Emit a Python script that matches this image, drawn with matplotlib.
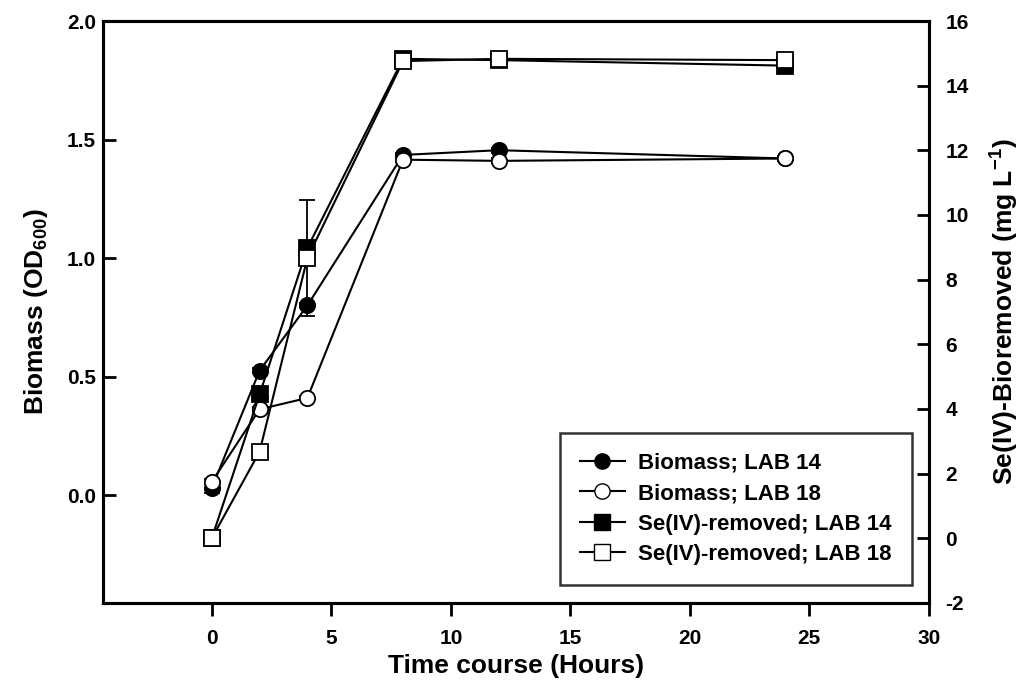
import matplotlib
matplotlib.use("Agg")
import matplotlib.pyplot as plt
from matplotlib.lines import Line2D

plt.rcParams["font.family"] = ["Liberation Sans", "DejaVu Sans"]
plt.rcParams["font.weight"] = "bold"
plt.rcParams["mathtext.fontset"] = "custom"
plt.rcParams["mathtext.rm"] = "Liberation Sans:bold"
plt.rcParams["mathtext.it"] = "Liberation Sans:bold"
plt.rcParams["mathtext.bf"] = "Liberation Sans:bold"

# time points (hours)
hours = [0, 2, 4, 8, 12, 24]

# biomass, OD600 (left axis)
biomass_lab14 = [0.03, 0.525, 0.80, 1.435, 1.455, 1.42]
biomass_lab14_err = [0.02, 0.01, 0.01, 0.01, 0.01, 0.01]
biomass_lab18 = [0.056, 0.362, 0.41, 1.415, 1.41, 1.42]
biomass_lab18_err = [0.01, 0.01, 0.01, 0.01, 0.01, 0.01]

# Se(IV) removed, mg/L (right axis)
se_lab14 = [0.0, 4.45, 8.98, 14.83, 14.79, 14.62]
se_lab14_err = [0.1, 0.1, 0.1, 0.1, 0.1, 0.1]
se_lab18 = [0.0, 2.68, 8.67, 14.76, 14.83, 14.79]
se_lab18_err = [0.1, 0.1, 1.8, 0.1, 0.1, 0.1]

fig = plt.figure(figsize=(10.23, 6.91), dpi=100)
ax = fig.add_axes([0.1007, 0.1274, 0.8073, 0.8422])
ax2 = ax.twinx()

common = dict(color="black", linewidth=1.5, markersize=11, markeredgewidth=1.3,
              elinewidth=1.3, capsize=6, capthick=1.3)

ax.errorbar(hours, biomass_lab14, yerr=biomass_lab14_err, marker="o",
            markerfacecolor="black", **common)
ax.errorbar(hours, biomass_lab18, yerr=biomass_lab18_err, marker="o",
            markerfacecolor="white", **common)
ax2.errorbar(hours, se_lab14, yerr=se_lab14_err, marker="s",
             markerfacecolor="black", **common)
ax2.errorbar(hours, se_lab18, yerr=se_lab18_err, marker="s",
             markerfacecolor="white", **common)

ax.set_xlim(-4.55, 30)
ax.set_ylim(-0.455, 2.0)
ax2.set_ylim(-2, 16)

ax.set_xticks([0, 5, 10, 15, 20, 25, 30])
ax.set_yticks([0.0, 0.5, 1.0, 1.5, 2.0])
ax.set_yticklabels(["0.0", "0.5", "1.0", "1.5", "2.0"])
ax2.set_yticks(range(-2, 17, 2))
ax2.set_yticklabels([str(v) for v in range(-2, 17, 2)])

for a in (ax, ax2):
    for s in a.spines.values():
        s.set_linewidth(2.2)
ax.tick_params(axis="x", direction="out", length=9, width=2, labelsize=15, pad=10)
ax.tick_params(axis="y", direction="in", length=9, width=2, labelsize=15, pad=5)
ax2.tick_params(axis="y", direction="in", length=9, width=2, labelsize=15, pad=12)

ax.set_xlabel("Time course (Hours)", fontsize=19, fontweight="bold", labelpad=4)
ax.set_ylabel("Biomass (OD$_{600}$)", fontsize=19, fontweight="bold", labelpad=12)
ax2.set_ylabel("Se(IV)-Bioremoved (mg L$^{-1}$)", fontsize=19, fontweight="bold",
               labelpad=14)

handles = [
    Line2D([], [], color="black", lw=1.5, marker="o", ms=11, mfc="black"),
    Line2D([], [], color="black", lw=1.5, marker="o", ms=11, mfc="white"),
    Line2D([], [], color="black", lw=1.5, marker="s", ms=11, mfc="black"),
    Line2D([], [], color="black", lw=1.5, marker="s", ms=11, mfc="white"),
]
labels = ["Biomass; LAB 14", "Biomass; LAB 18",
          "Se(IV)-removed; LAB 14", "Se(IV)-removed; LAB 18"]
leg = ax2.legend(handles, labels, loc="lower right", bbox_to_anchor=(0.979, 0.031),
                 fontsize=16, frameon=True, fancybox=False, edgecolor="black",
                 handlelength=2.0, borderpad=0.9, labelspacing=0.42,
                 handletextpad=0.6, borderaxespad=0)
leg.get_frame().set_linewidth(1.8)

fig.savefig("out.png", dpi=100)
